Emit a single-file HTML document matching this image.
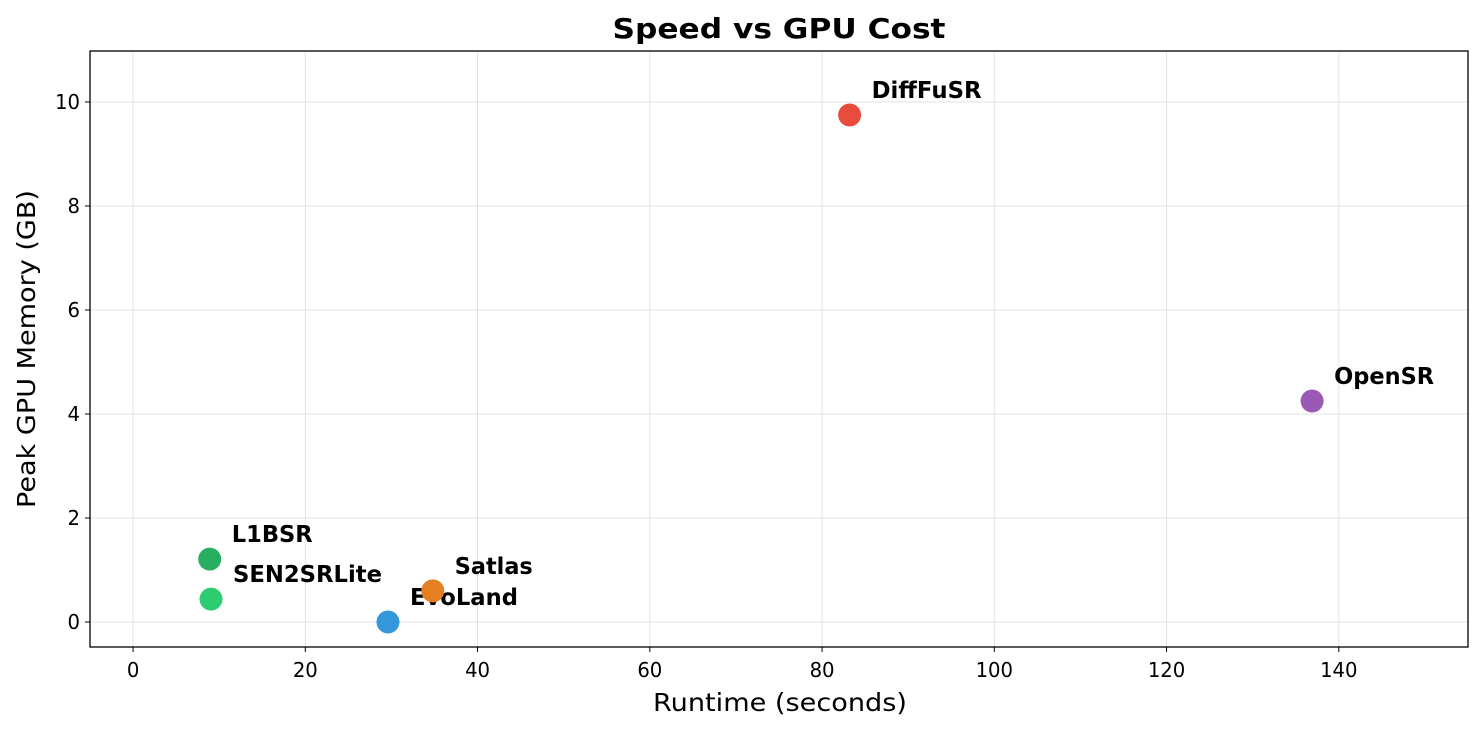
<!DOCTYPE html>
<html><head><meta charset="utf-8"><style>
body{margin:0;background:#fff;}
svg text{font-family:"DejaVu Sans","Liberation Sans",sans-serif;}
</style></head><body>
<svg id="chart" width="1484" height="732" viewBox="0 0 1484 732">
<g id="grid"></g>
<g id="ticks"></g>
<g id="marks"></g>
<rect x="90" y="51" width="1378" height="596" fill="none" stroke="#000" stroke-width="1.3"/>
<text x="779" y="38" text-anchor="middle" font-size="28" font-weight="bold" textLength="333" lengthAdjust="spacingAndGlyphs">Speed vs GPU Cost</text>
<text x="780" y="711" text-anchor="middle" font-size="25" textLength="254" lengthAdjust="spacingAndGlyphs">Runtime (seconds)</text>
<text transform="translate(35,349) rotate(-90)" text-anchor="middle" font-size="25" textLength="318" lengthAdjust="spacingAndGlyphs">Peak GPU Memory (GB)</text>
</svg>
<script>
const models=["L1BSR","SEN2SRLite","EvoLand","Satlas","DiffFuSR","OpenSR"];
const runtimes=[8.9,9.05,29.6,34.8,83.2,136.9];
const memory=[1.21,0.44,0.0,0.6,9.75,4.25];
const colors=["#27ae60","#2ecc71","#3498db","#e67e22","#e74c3c","#9b59b6"];
const xTicks=[0,20,40,60,80,100,120,140];
const yTicks=[0,2,4,6,8,10];
const labelWidths=[81,149,108,78,110,100];
const L=90,R=1468,T=51,B=647,xmin=-5,xmax=155,ymin=-0.48,ymax=10.98;
const X=v=>L+(v-xmin)/(xmax-xmin)*(R-L);
const Y=v=>B-(v-ymin)/(ymax-ymin)*(B-T);
const NS="http://www.w3.org/2000/svg";
function mk(tag,attrs,parent){const e=document.createElementNS(NS,tag);for(const k in attrs)e.setAttribute(k,attrs[k]);parent.appendChild(e);return e;}
const grid=document.getElementById('grid'),ticks=document.getElementById('ticks'),marks=document.getElementById('marks');
xTicks.forEach(t=>{const x=X(t);
 const g=mk('line',{x1:x,x2:x,y1:T,y2:B,stroke:'#e3e3e3','stroke-width':1},grid);
 
 const k=mk('line',{x1:x,x2:x,y1:B,y2:B+5,stroke:'#000','stroke-width':1},ticks);
 
 const s=mk('text',{x:x,y:B+30,'text-anchor':'middle','font-size':20,textLength:String(t).length*12.5,lengthAdjust:'spacingAndGlyphs'},ticks);s.textContent=t;
 });
yTicks.forEach(t=>{const y=Y(t);
 const g=mk('line',{x1:L,x2:R,y1:y,y2:y,stroke:'#e3e3e3','stroke-width':1},grid);
 
 const k=mk('line',{x1:L-5,x2:L,y1:y,y2:y,stroke:'#000','stroke-width':1},ticks);
 
 const s=mk('text',{x:L-10,y:y+7,'text-anchor':'end','font-size':20,textLength:String(t).length*12.5,lengthAdjust:'spacingAndGlyphs'},ticks);s.textContent=t;
 });
models.forEach((m,i)=>{const x=X(runtimes[i]),y=Y(memory[i]);
 const c=mk('circle',{cx:x,cy:y,r:11.5,fill:colors[i]},marks);
 
 const t=mk('text',{x:x+22,y:y-17,'font-size':23,'font-weight':'bold',textLength:labelWidths[i],lengthAdjust:'spacingAndGlyphs'},marks);t.textContent=m;
 });
</script>
</body></html>
